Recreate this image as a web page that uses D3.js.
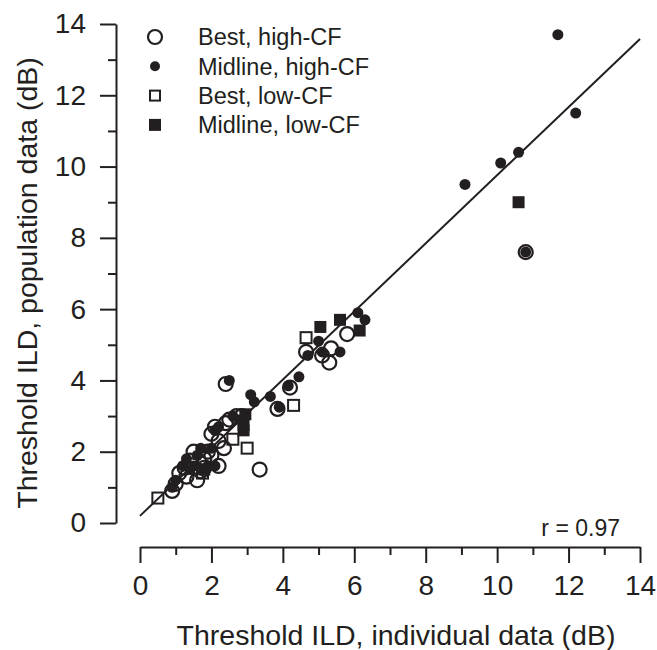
<!DOCTYPE html>
<html>
<head>
<meta charset="utf-8">
<script src="https://cdn.jsdelivr.net/npm/d3@7"></script>
<style>
  body { margin: 0; background: #fff; }
  text { font-family: "Liberation Sans", Arial, sans-serif; fill: #231f20; }
</style>
</head>
<body>
<script>
var w = 657;
var h = 650;

// data (dB): [individual, population]
var bestHigh = [[0.9,0.9],[1.0,1.1],[1.1,1.4],[1.25,1.55],[1.3,1.3],[1.4,1.75],[1.5,2.0],[1.6,1.2],
  [1.7,1.45],[1.8,1.8],[1.9,2.0],[2.0,2.5],[2.1,2.7],[2.2,2.3],[2.2,1.6],[2.35,2.1],[2.4,2.8],
  [2.5,2.9],[2.7,3.0],[2.85,3.0],[2.4,3.9],[3.35,1.5],[3.85,3.2],[4.2,3.8],[4.65,4.8],
  [5.1,4.7],[5.35,4.9],[5.3,4.5],[5.8,5.3],[10.8,7.6],[2.0,1.9],[1.8,1.55]];
var midHigh = [[0.9,1.0],[1.0,1.2],[1.2,1.6],[1.3,1.8],[1.5,1.6],[1.6,1.9],[1.7,2.1],[1.9,1.6],
  [2.0,2.1],[2.1,2.6],[2.2,2.7],[2.5,4.0],[2.6,3.0],[2.8,2.9],[3.1,3.6],[3.2,3.4],[3.65,3.55],
  [3.9,3.25],[4.15,3.85],[4.45,4.1],[4.7,4.7],[5.0,5.1],[5.1,4.8],[5.6,4.8],[6.1,5.9],[6.3,5.7],
  [9.1,9.5],[10.1,10.1],[10.6,10.4],[11.7,13.7],[12.2,11.5],[10.8,7.6],[2.1,1.6],[1.4,1.5]];
var bestLow = [[0.5,0.7],[2.6,2.35],[3.0,2.1],[4.3,3.3],[4.65,5.2],[1.75,1.4]];
var midLow = [[1.8,1.5],[2.9,2.6],[2.9,2.75],[2.95,3.05],[5.05,5.5],[5.6,5.7],[6.15,5.4],[10.6,9.0]];

// regression line end points
var fitX = [0, 14];
var fitY = [0.2, 13.58];

var majorTicks = [0, 2, 4, 6, 8, 10, 12, 14];
var minorTicks = [1, 3, 5, 7, 9, 11, 13];

var legendLabels = ["Best, high-CF", "Midline, high-CF", "Best, low-CF", "Midline, low-CF"];

var x = d3.scaleLinear().domain([0, 14]).range([140, 640]);
var y = d3.scaleLinear().domain([0, 14]).range([523, 24]);

var svg = d3.select("body")
      .append("svg")
      .attr("width", w)
      .attr("height", h);

var ink = "#231f20";

// axes
svg.append("g")
   .attr("transform", "translate(0,547)")
   .call(d3.axisBottom(x).tickValues(majorTicks).tickSize(16).tickSizeOuter(0).tickPadding(12));
svg.append("g")
   .attr("transform", "translate(0,547)")
   .call(d3.axisBottom(x).tickValues(minorTicks).tickSize(8).tickFormat(""))
   .select(".domain").remove();

svg.append("g")
   .attr("transform", "translate(116,0)")
   .call(d3.axisLeft(y).tickValues(majorTicks).tickSize(16).tickSizeOuter(0).tickPadding(14));
svg.append("g")
   .attr("transform", "translate(116,0)")
   .call(d3.axisLeft(y).tickValues(minorTicks).tickSize(8).tickFormat(""))
   .select(".domain").remove();

svg.selectAll(".domain, .tick line")
   .attr("stroke", ink)
   .attr("stroke-width", 2);
svg.selectAll(".tick text")
   .attr("font-size", "28px")
   .attr("fill", ink);

// regression line
svg.append("line")
   .attr("x1", x(fitX[0])).attr("y1", y(fitY[0]))
   .attr("x2", x(fitX[1])).attr("y2", y(fitY[1]))
   .attr("stroke", ink)
   .attr("stroke-width", 2);

// markers
svg.append("g").selectAll("circle")
   .data(bestHigh).enter().append("circle")
   .attr("cx", function(d) { return x(d[0]); })
   .attr("cy", function(d) { return y(d[1]); })
   .attr("r", 7)
   .attr("fill", "none")
   .attr("stroke", ink)
   .attr("stroke-width", 2.2);

svg.append("g").selectAll("rect")
   .data(bestLow).enter().append("rect")
   .attr("x", function(d) { return x(d[0]) - 5.5; })
   .attr("y", function(d) { return y(d[1]) - 5.5; })
   .attr("width", 11).attr("height", 11)
   .attr("fill", "none")
   .attr("stroke", ink)
   .attr("stroke-width", 2);

svg.append("g").selectAll("circle")
   .data(midHigh).enter().append("circle")
   .attr("cx", function(d) { return x(d[0]); })
   .attr("cy", function(d) { return y(d[1]); })
   .attr("r", 5.5)
   .attr("fill", ink);

svg.append("g").selectAll("rect")
   .data(midLow).enter().append("rect")
   .attr("x", function(d) { return x(d[0]) - 6; })
   .attr("y", function(d) { return y(d[1]) - 6; })
   .attr("width", 12).attr("height", 12)
   .attr("fill", ink);

// legend
var leg = svg.append("g").attr("transform", "translate(155,37)");
var rowH = 29.3;
leg.append("circle").attr("cx", 0).attr("cy", 0).attr("r", 7)
   .attr("fill", "none").attr("stroke", ink).attr("stroke-width", 2.2);
leg.append("circle").attr("cx", 0).attr("cy", rowH).attr("r", 5)
   .attr("fill", ink);
leg.append("rect").attr("x", -5).attr("y", 2 * rowH - 5).attr("width", 10).attr("height", 10)
   .attr("fill", "none").attr("stroke", ink).attr("stroke-width", 2);
leg.append("rect").attr("x", -6).attr("y", 3 * rowH - 6).attr("width", 12).attr("height", 12)
   .attr("fill", ink);
leg.selectAll("text")
   .data(legendLabels).enter().append("text")
   .attr("x", 43)
   .attr("y", function(d, i) { return i * rowH; })
   .attr("dy", "0.35em")
   .attr("font-size", "23.5px")
   .text(function(d) { return d; });

// r value
svg.append("text")
   .attr("x", 620).attr("y", 528)
   .attr("dy", "0.35em")
   .attr("text-anchor", "end")
   .attr("font-size", "23px")
   .text("r = 0.97");

// axis titles
svg.append("text")
   .attr("x", 396).attr("y", 645)
   .attr("text-anchor", "middle")
   .attr("font-size", "28.5px")
   .text("Threshold ILD, individual data (dB)");

svg.append("text")
   .attr("transform", "translate(37,283) rotate(-90)")
   .attr("text-anchor", "middle")
   .attr("font-size", "28.5px")
   .text("Threshold ILD, population data (dB)");
</script>
</body>
</html>
